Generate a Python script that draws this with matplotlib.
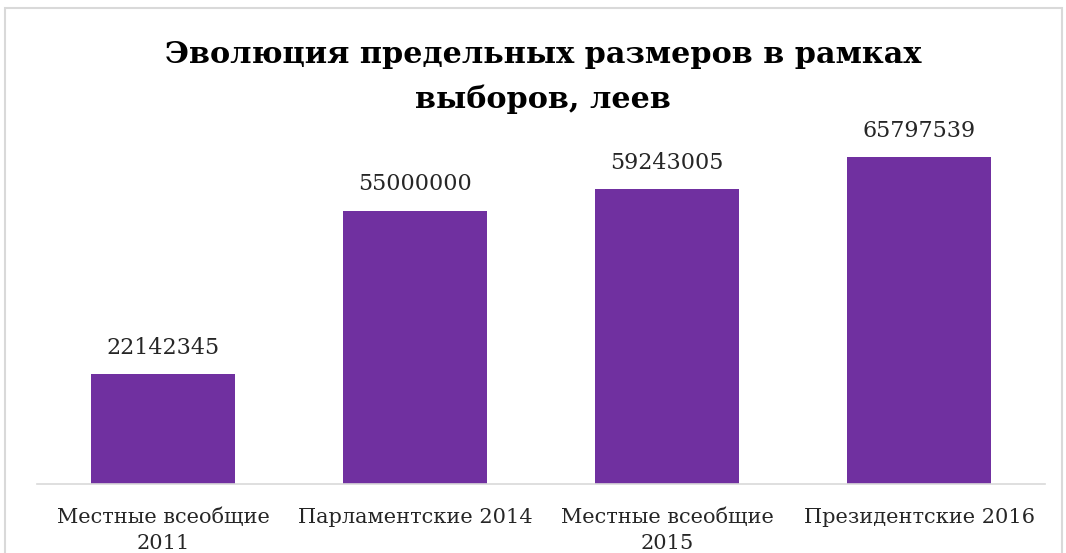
import matplotlib
matplotlib.use("Agg")
import matplotlib.pyplot as plt
from matplotlib.patches import Rectangle

categories = ["Местные всеобщие\n2011", "Парламентские 2014", "Местные всеобщие\n2015", "Президентские 2016"]
values = [22142345, 55000000, 59243005, 65797539]
title = "Эволюция предельных размеров в рамках\nвыборов, леев"

bar_color = "#7030A0"
text_color = "#262626"

fig = plt.figure(figsize=(10.66, 5.53), dpi=100)
fig.patch.set_facecolor("white")

# chart frame (bottom edge is cut off in the reference)
fig.patches.append(Rectangle((5 / 1066, -0.05), 1057 / 1066, 1.05 - 8 / 553,
                             transform=fig.transFigure, fill=False,
                             edgecolor="#d9d9d9", linewidth=1.5))

ax = fig.add_axes([37 / 1066, 69 / 553, 1008 / 1066, 348 / 553])
x = range(len(categories))
bars = ax.bar(x, values, width=0.571, color=bar_color)
ax.set_xlim(-0.5, len(categories) - 0.5)
ax.set_ylim(0, 70000000)

for rect, v in zip(bars, values):
    ax.annotate(f"{v}", (rect.get_x() + rect.get_width() / 2, v),
                xytext=(0, 11), textcoords="offset points", ha="center", va="bottom",
                fontsize=16, family="DejaVu Serif", color=text_color)

ax.set_xticks(list(x))
ax.set_xticklabels(categories, fontsize=15, family="DejaVu Serif", color=text_color,
                   linespacing=1.45)
ax.tick_params(axis="x", length=0, pad=17)
ax.set_yticks([])
for side in ["top", "right", "left"]:
    ax.spines[side].set_visible(False)
ax.spines["bottom"].set_color("#d9d9d9")
ax.spines["bottom"].set_linewidth(1.2)

fig.text(543 / 1066, 1 - 77 / 553, title, ha="center", va="center", fontsize=21.8,
         fontweight="bold", family="DejaVu Serif", color="black", linespacing=1.7)

fig.savefig("out.png", dpi=100)
